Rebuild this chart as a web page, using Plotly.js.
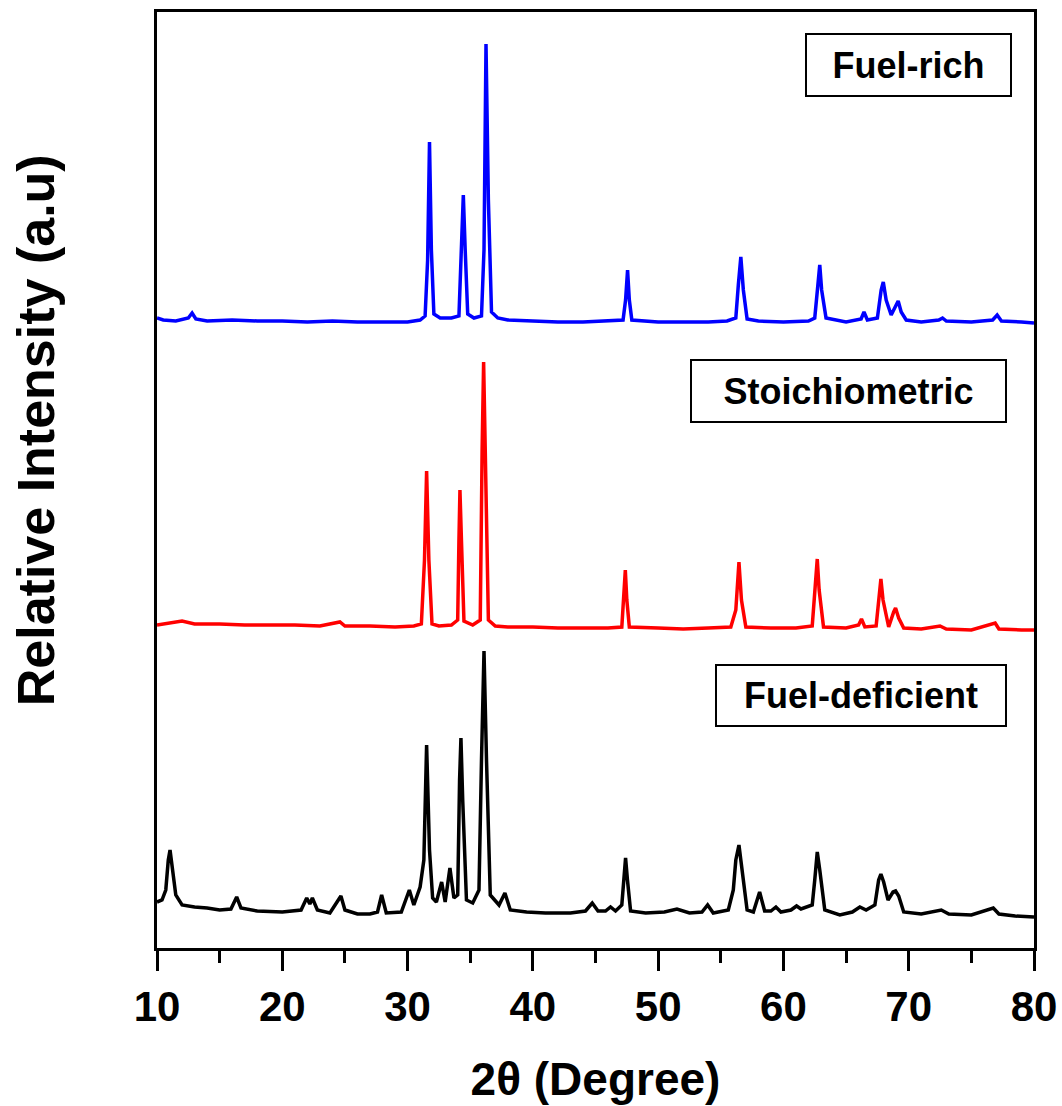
<!DOCTYPE html>
<html>
<head>
<meta charset="utf-8">
<script src="https://cdn.plot.ly/plotly-3.0.1.min.js"></script>
<style>html,body{margin:0;padding:0;background:#fff;}#chart{width:1062px;height:1106px;}</style>
</head>
<body>
<div id="chart"></div>
<script>
// Fuel-rich (blue), 2theta in degrees and relative intensity (stacked, a.u.)
const richX = [10.0,10.5,11.5,12.5,12.8,13.1,14,16,18,20,22,24,26,28,30,31.0,31.4,31.6,31.75,31.9,32.1,32.6,33.5,34.1,34.3,34.45,34.6,34.8,35.3,35.9,36.1,36.26,36.45,36.7,37.2,38,40,42,44,46,47.2,47.4,47.56,47.7,47.9,50,52,54,55.5,56.2,56.4,56.6,56.8,57.1,58,60,62,62.5,62.75,62.9,63.05,63.4,65,66.2,66.43,66.7,67.5,67.8,67.97,68.2,68.6,69.0,69.16,69.4,69.8,71,72.4,72.7,73.0,75,76.7,77.06,77.4,79,80];
const richY = [630,628,627,630,635,629,627,628,627,627,626,627,626,626,626,628,632,688,806,698,634,630,630,632,708,753,698,634,630,632,698,904,748,636,630,628,627,626,626,627,628,648,678,648,628,626,626,626,627,630,663,691,658,629,627,626,627,630,663,683,658,630,626,629,636,628,630,658,666,648,633,643,647,636,628,626,628,630,627,626,628,633,627,626,625];

// Stoichiometric (red)
const stoX = [10.0,11,12,13,15,17,19,21,23,24.6,25,27,29,30.5,31.1,31.35,31.52,31.7,31.95,32.5,33.5,34.0,34.1,34.18,34.3,34.5,35.2,35.8,35.95,36.07,36.2,36.45,37,38,40,42,44,46,47.1,47.25,47.38,47.5,47.7,50,52,54,55.8,56.2,56.45,56.65,57.0,59,61,62.3,62.55,62.7,62.85,63.2,65,66.0,66.23,66.5,67.4,67.65,67.78,67.95,68.4,68.8,68.95,69.2,69.6,71,72.5,73,75,76.9,77.2,79,80];
const stoY = [323,325,327,324,324,323,323,323,322,326,322,322,321,322,324,388,477,388,324,322,323,328,408,458,408,327,323,328,498,586,498,328,322,321,321,320,320,320,321,348,378,348,321,320,319,320,321,338,386,348,321,320,320,322,358,389,358,321,320,323,329,321,322,358,369,348,321,336,340,330,320,319,322,319,318,325,319,318,318];

// Fuel-deficient (black)
const defX = [10.0,10.4,10.7,10.9,11.04,11.2,11.5,12,13,14,15,15.9,16.36,16.7,18,20,21.5,21.95,22.2,22.4,22.8,23.8,24.68,25.0,26,27,27.6,27.93,28.3,29.5,30.14,30.5,31.0,31.3,31.52,31.75,32.0,32.3,32.72,33.0,33.38,33.7,34.0,34.15,34.26,34.4,34.7,35.2,35.7,35.9,36.1,36.3,36.6,37.3,37.77,38.2,39.5,41,43,44.2,44.74,45.2,45.8,46.2,46.6,47.1,47.25,47.4,47.55,47.8,49,50.5,51.5,52.5,53.5,53.95,54.4,55.6,56.0,56.2,56.45,56.7,57.1,57.6,58.1,58.5,59.0,59.4,59.8,60.6,61.05,61.4,61.85,62.3,62.5,62.7,62.9,63.3,64.5,65.5,66.1,66.6,67.3,67.6,67.78,68.0,68.35,68.75,68.95,69.2,69.6,71,72.6,73.2,75,76.75,77.2,78.5,80];
const defY = [46,48,58,88,98,83,53,43,41,40,38,39,51,40,37,36,38,50,44,50,38,35,52,38,34,34,36,53,35,36,58,43,61,88,203,98,50,46,66,46,80,50,53,168,210,148,48,45,58,188,297,188,53,43,55,38,36,35,35,37,45,37,37,41,37,43,68,90,68,37,35,36,39,35,36,43,35,38,58,88,103,78,38,36,56,37,37,41,36,38,42,39,41,43,68,96,78,38,33,36,41,38,43,68,74,66,48,56,57,52,36,34,38,34,33,40,34,32,31];

const labels = ["Fuel-rich", "Stoichiometric", "Fuel-deficient"];
const xTickVals = [10,20,30,40,50,60,70,80];

const FONT = "Liberation Sans, Arial, Helvetica, sans-serif";

const traces = [
  {x: richX, y: richY, name: labels[0], mode: "lines", line: {color: "#0000FF", width: 3.5}},
  {x: stoX, y: stoY, name: labels[1], mode: "lines", line: {color: "#FF0000", width: 3.5}},
  {x: defX, y: defY, name: labels[2], mode: "lines", line: {color: "#000000", width: 3.5}}
];

function box(text, x, y, w, h) {
  return {
    text: text, xref: "paper", yref: "paper", x: x, y: y,
    xanchor: "center", yanchor: "middle", showarrow: false,
    font: {family: FONT, size: 36, color: "#000", weight: "bold"},
    bgcolor: "#fff", bordercolor: "#000", borderwidth: 2, borderpad: 0,
    width: w, height: h
  };
}

const layout = {
  width: 1062, height: 1106,
  margin: {l: 157, r: 28, t: 12, b: 158},
  paper_bgcolor: "#fff", plot_bgcolor: "#fff",
  showlegend: false,
  xaxis: {
    range: [10, 80], tickvals: xTickVals, ticks: "outside", ticklen: 20, tickwidth: 3, tickcolor: "#000",
    showline: true, linewidth: 3, linecolor: "#000", mirror: true,
    showgrid: false, zeroline: false,
    tickfont: {family: FONT, size: 42, color: "#000", weight: "bold"},
    minor: {dtick: 5, tick0: 5, ticks: "outside", ticklen: 12, tickwidth: 3, tickcolor: "#000", showgrid: false},
    title: {text: "2\u03b8 (Degree)", font: {family: FONT, size: 46, color: "#000", weight: "bold"}, standoff: 34}
  },
  yaxis: {
    range: [0, 936], showticklabels: false, ticks: "",
    showline: true, linewidth: 3, linecolor: "#000", mirror: true,
    showgrid: false, zeroline: false
  },
  annotations: [
    box(labels[0], 0.857, 0.943, 203, 60),
    box(labels[1], 0.7885, 0.595, 313, 60),
    box(labels[2], 0.8027, 0.27, 288, 59),
    {text: "Relative Intensity (a.u)", xref: "paper", yref: "paper", x: -0.137, y: 0.553,
     xanchor: "center", yanchor: "middle", textangle: -90, showarrow: false,
     font: {family: FONT, size: 52, color: "#000", weight: "bold"}}
  ]
};

Plotly.newPlot("chart", traces, layout, {displayModeBar: false, staticPlot: true});
</script>
</body>
</html>
